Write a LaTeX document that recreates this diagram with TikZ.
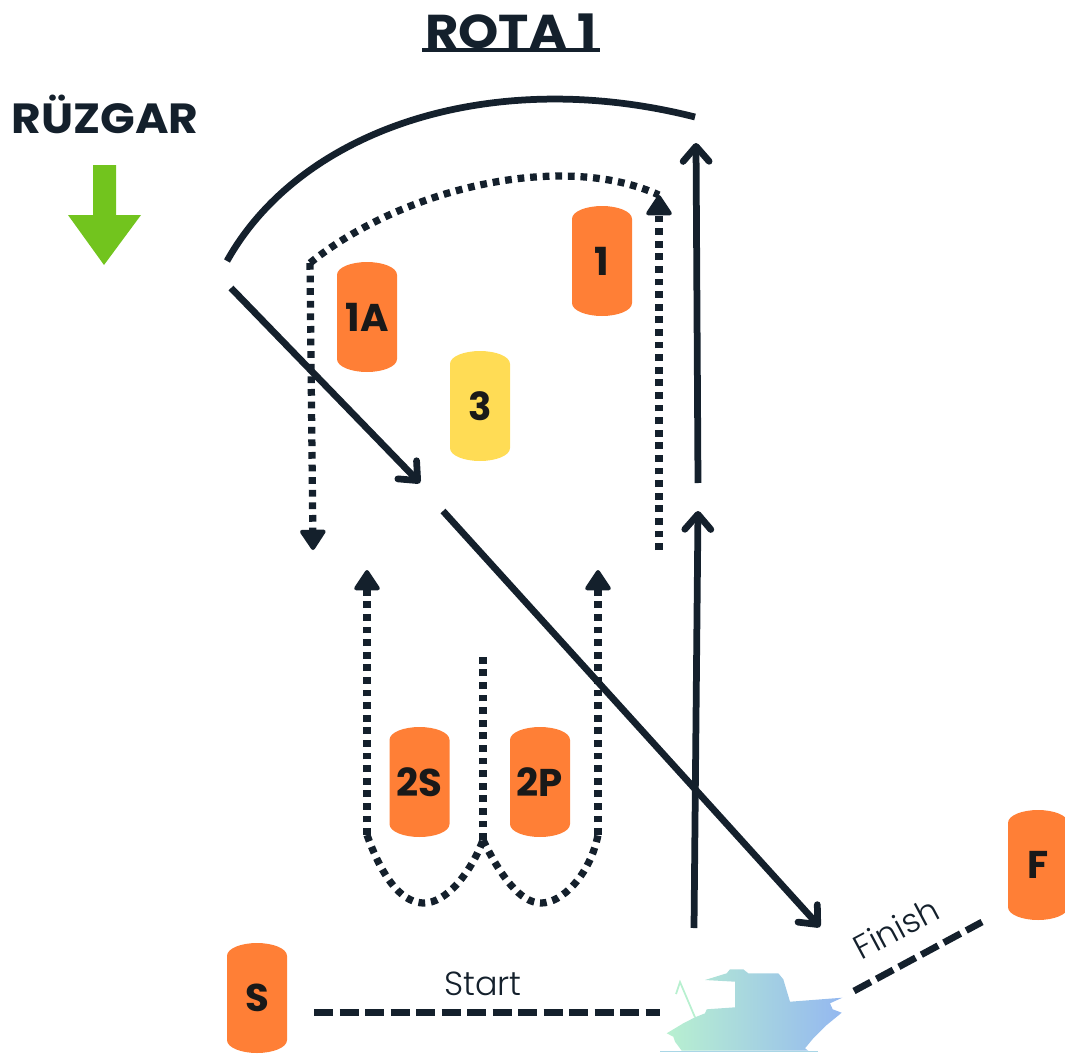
\documentclass[tikz,border=0pt]{standalone}
\usepackage{fontspec}
\setmainfont{Poppins}
\newfontfamily\lightfont{Poppins Light}
\usepackage{tikz}
\usetikzlibrary{arrows.meta}
\definecolor{inkblue}{HTML}{14202C}
\definecolor{buoyorange}{HTML}{FF7F36}
\definecolor{buoyyellow}{HTML}{FFDC55}
\definecolor{windgreen}{HTML}{72C41E}
\definecolor{boatgreen}{HTML}{B8F0D0}
\definecolor{boatmid}{HTML}{A9D6E6}
\definecolor{boatblue}{HTML}{94B8F0}
\tikzset{
	solidline/.style={line width=1.35mm, color=inkblue},
	dottedline/.style={line width=1.45mm, color=inkblue, dash pattern=on 1.35mm off 1.17mm},
	dashline/.style={line width=1.35mm, color=inkblue, dash pattern=on 3.8mm off 1.3mm},
	barb/.style={-{Straight Barb[length=3mm,width=5.2mm,round,line width=1.35mm]}},
	tri/.style={-{Triangle[length=4.4mm,width=5.6mm,round,line width=0.8mm]}},
	buoylabel/.style={font=\fontsize{22}{22}\selectfont\bfseries, text=black!90}
}
\def\buoy[#1](#2)(#3,#4)#5{
	\fill[#1] (#3-30,#4-42) .. controls (#3-30,#4-50) and (#3-15,#4-55) .. (#3,#4-55)
		.. controls (#3+15,#4-55) and (#3+30,#4-50) .. (#3+30,#4-42) -- (#3+30,#4+42)
		.. controls (#3+30,#4+50) and (#3+15,#4+55) .. (#3,#4+55)
		.. controls (#3-15,#4+55) and (#3-30,#4+50) .. (#3-30,#4+42) -- cycle;
	\node[buoylabel] (#2) at (#3,#4) {#5};
}

\begin{document}
\begin{tikzpicture}[x=0.2mm, y=-0.2mm]
	\useasboundingbox (0,0) rectangle (1065,1055);

	% titles
	\node[text=inkblue, xscale=1.08, font=\fontsize{27}{27}\selectfont\bfseries] (title) at (511,31) {ROTA 1};
	\draw[inkblue, line width=0.9mm] (422,50) -- (600,50);
	\node[text=inkblue, xscale=1.08, font=\fontsize{24}{24}\selectfont\bfseries] (wind) at (105,114) {RÜZGAR};
	\fill[windgreen] (93,165) -- (116,165) -- (116,215) -- (141,215) -- (104,265) -- (68,215) -- (93,215) -- cycle;

	% buoys
	\buoy[buoyorange](one)(602,261){1}
	\buoy[buoyorange](oneA)(367,317){1A}
	\buoy[buoyyellow](three)(480,406){3}
	\buoy[buoyorange](twoS)(419.5,782){2S}
	\buoy[buoyorange](twoP)(540,782){2P}
	\buoy[buoyorange](start)(257,998){S}
	\buoy[buoyorange](finish)(1038,865){F}

	% points of the course
	\coordinate (a1) at (227,261);
	\coordinate (a2) at (695,117);
	\coordinate (b1) at (231,288);
	\coordinate (b2) at (420,483);
	\coordinate (b3) at (443,511);
	\coordinate (b4) at (820,927);
	\coordinate (c1) at (694,928);
	\coordinate (c2) at (698,511);
	\coordinate (c3) at (698,483);
	\coordinate (c4) at (696,143);
	\coordinate (d1) at (310,263);
	\coordinate (d2) at (659,195);
	\coordinate (d3) at (313,550);
	\coordinate (d4) at (659,550);
	\coordinate (e1) at (367,835);
	\coordinate (e2) at (367,570);
	\coordinate (e3) at (483,840);
	\coordinate (e4) at (483,655);
	\coordinate (e5) at (598,835);
	\coordinate (e6) at (598,570);
	\coordinate (s1) at (314,1012.5);
	\coordinate (s2) at (660,1012.5);
	\coordinate (f1) at (854,991);
	\coordinate (f2) at (982,922);

	% solid legs
	\draw[solidline] (a1) .. controls (300,130) and (490,65) .. (a2);
	\draw[solidline, barb] (b1) -- (b2);
	\draw[solidline, barb] (b3) -- (b4);
	\draw[solidline, barb] (c1) -- (c2);
	\draw[solidline, barb] (c3) -- (c4);

	% dotted legs
	\draw[dottedline] (d1) .. controls (400,190) and (560,150) .. (d2);
	\draw[dottedline, tri] (d1) -- (d3);
	\draw[dottedline, tri] (d4) -- (d2);
	\draw[dottedline, tri] (e1) -- (e2);
	\draw[dottedline, tri] (e5) -- (e6);
	\draw[dottedline] (e3) -- (e4);
	\draw[dottedline] (e1) .. controls (385,885) and (405,903) .. (424,903) .. controls (445,903) and (470,875) .. (e3);
	\draw[dottedline] (e3) .. controls (500,875) and (520,903) .. (541,903) .. controls (562,903) and (590,875) .. (e5);

	% start and finish lines
	\draw[dashline] (s1) -- (s2);
	\draw[dashline] (f1) -- (f2);
	\node[text=inkblue, font=\fontsize{19}{19}\selectfont\lightfont] (startlabel) at (483,984) {Start};
	\node[text=inkblue, font=\fontsize{19}{19}\selectfont\lightfont, rotate=28] (finishlabel) at (896,928) {Finish};

	% boat
	\shade[left color=boatgreen, middle color=boatmid, right color=boatblue] (681.7,1050.7) -- (675,1041.7) -- (673.3,1036.7) -- (666.7,1033.3) -- (675,1028.3) -- (683.3,1023.3) -- (695,1017.3) -- (705,1013.3) -- (706.7,1009.3) -- (735,1007.3) -- (735,981.7) -- (705,980) -- (726.7,973.3) -- (730,969.3) -- (743.3,969.3) -- (748.3,973.3) -- (778.3,973.3) -- (783.3,979.3) -- (790,1001.7) -- (842.3,997.7) -- (830,1003.3) -- (832.7,1009.3) -- (841.7,1012.7) -- (826.7,1025) -- (813.3,1038.3) -- (805,1048.3) -- (808.3,1050.7) -- cycle;
	\draw[boatmid, line width=0.3mm] (660,1051.7) -- (818,1051.7);
	\draw[boatgreen, line width=0.35mm] (695,1017.3) -- (680,982) -- (676,994);
\end{tikzpicture}
\end{document}
